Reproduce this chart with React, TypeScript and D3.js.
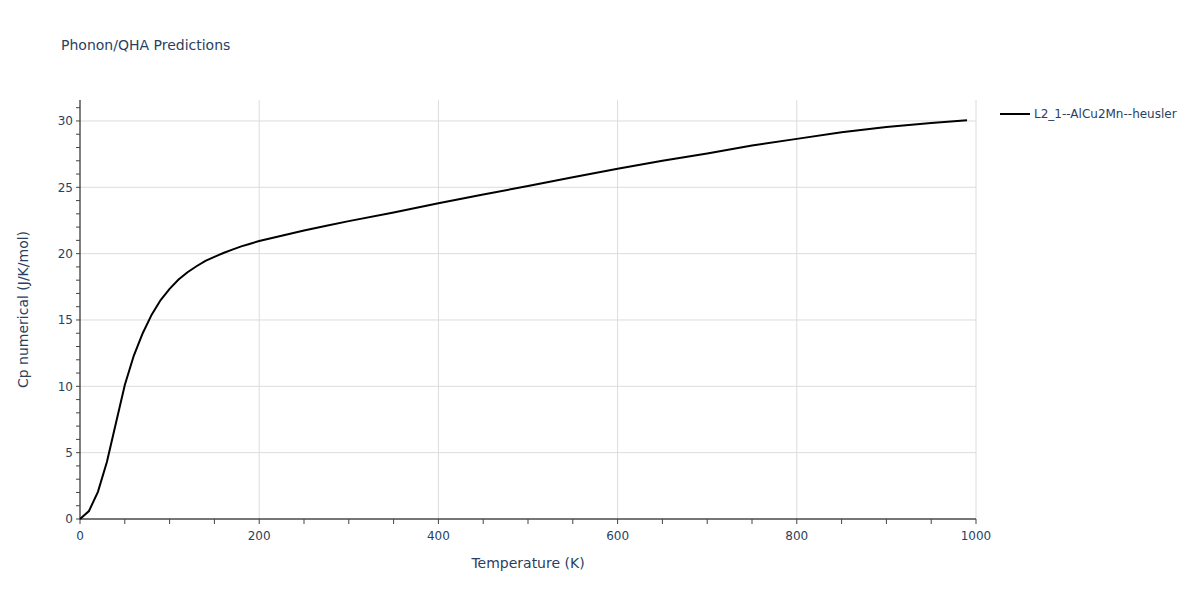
import * as d3 from "d3";

// temperature (K) and Cp (J/K/mol)
const temps = [
  0, 10, 20, 30, 40, 50, 60, 70, 80, 90, 100, 110, 120, 130, 140, 150, 160, 170,
  180, 190, 200, 225, 250, 275, 300, 350, 400, 450, 500, 550, 600, 650, 700, 750,
  800, 850, 900, 950, 990,
];
const cpValues = [
  0, 0.6, 2.05, 4.3, 7.2, 10.1, 12.3, 14.0, 15.4, 16.5, 17.35, 18.05, 18.6,
  19.05, 19.45, 19.75, 20.05, 20.3, 20.55, 20.75, 20.95, 21.35, 21.75, 22.1,
  22.45, 23.1, 23.8, 24.45, 25.1, 25.75, 26.4, 27.0, 27.55, 28.15, 28.65, 29.15,
  29.55, 29.85, 30.05,
];
const xTickLabels = [0, 200, 400, 600, 800, 1000];
const yTickLabels = [0, 5, 10, 15, 20, 25, 30];
const seriesName = "L2_1--AlCu2Mn--heusler";

const WIDTH = 1200;
const HEIGHT = 600;
const MARGIN = { top: 100, right: 224, bottom: 81, left: 80 };
const FONT = '"DejaVu Sans", Verdana, sans-serif';
const TEXT_COLOR = "#2a3f5f";

export default function App() {
  const boundsWidth = WIDTH - MARGIN.left - MARGIN.right;
  const boundsHeight = HEIGHT - MARGIN.top - MARGIN.bottom;

  const xScale = d3.scaleLinear().domain([0, 1000]).range([0, boundsWidth]);
  const yScale = d3.scaleLinear().domain([0, 31.58]).range([boundsHeight, 0]);

  const data = temps.map((t, i) => ({ t, v: cpValues[i] }));
  const line = d3
    .line<{ t: number; v: number }>()
    .x((d) => xScale(d.t))
    .y((d) => yScale(d.v));

  const xMinor = d3.range(0, 1001, 50);
  const yMinor = d3.range(0, 32, 1);

  return (
    <svg
      width={WIDTH}
      height={HEIGHT}
      style={{ position: "absolute", left: 0, top: 0, background: "#fff" }}
      fontFamily={FONT}
    >
      <text x={61} y={50} fontSize={14} fill={TEXT_COLOR}>
        Phonon/QHA Predictions
      </text>
      <g transform={`translate(${MARGIN.left},${MARGIN.top})`}>
        {/* grid */}
        {yTickLabels.map((v) => (
          <line
            key={`gy${v}`}
            x1={0}
            x2={boundsWidth}
            y1={yScale(v)}
            y2={yScale(v)}
            stroke="#dcdcdc"
            strokeWidth={1}
          />
        ))}
        {xTickLabels
          .filter((v) => v > 0)
          .map((v) => (
            <line
              key={`gx${v}`}
              x1={xScale(v)}
              x2={xScale(v)}
              y1={0}
              y2={boundsHeight}
              stroke="#dcdcdc"
              strokeWidth={1}
            />
          ))}

        {/* curve */}
        <path d={line(data) ?? ""} fill="none" stroke="#000" strokeWidth={2} />

        {/* axes */}
        <line x1={0} x2={0} y1={0} y2={boundsHeight + 1} stroke="#000" strokeWidth={1} />
        <line x1={0} x2={boundsWidth} y1={boundsHeight} y2={boundsHeight} stroke="#000" strokeWidth={1} />
        {yMinor.map((v) => (
          <line
            key={`ty${v}`}
            x1={-4}
            x2={0}
            y1={yScale(v)}
            y2={yScale(v)}
            stroke="#444"
            strokeWidth={1}
          />
        ))}
        {xMinor.map((v) => (
          <line
            key={`tx${v}`}
            x1={xScale(v)}
            x2={xScale(v)}
            y1={boundsHeight}
            y2={boundsHeight + 5}
            stroke="#444"
            strokeWidth={1}
          />
        ))}
        {yTickLabels.map((v) => (
          <text
            key={`ly${v}`}
            x={-7}
            y={yScale(v)}
            dy="0.35em"
            textAnchor="end"
            fontSize={12}
            fill={TEXT_COLOR}
          >
            {v}
          </text>
        ))}
        {xTickLabels.map((v) => (
          <text
            key={`lx${v}`}
            x={xScale(v)}
            y={boundsHeight + 21}
            textAnchor="middle"
            fontSize={12}
            fill={TEXT_COLOR}
          >
            {v}
          </text>
        ))}
        <text
          x={boundsWidth / 2}
          y={boundsHeight + 49}
          textAnchor="middle"
          fontSize={14}
          fill={TEXT_COLOR}
        >
          Temperature (K)
        </text>
        <text
          transform={`translate(${-52},${boundsHeight / 2}) rotate(-90)`}
          textAnchor="middle"
          fontSize={14}
          fill={TEXT_COLOR}
        >
          Cp numerical (J/K/mol)
        </text>
      </g>

      {/* legend */}
      <line x1={1000} x2={1030} y1={114} y2={114} stroke="#000" strokeWidth={2} />
      <text x={1034} y={114} dy="0.35em" fontSize={12} fill={TEXT_COLOR}>
        {seriesName}
      </text>
    </svg>
  );
}
